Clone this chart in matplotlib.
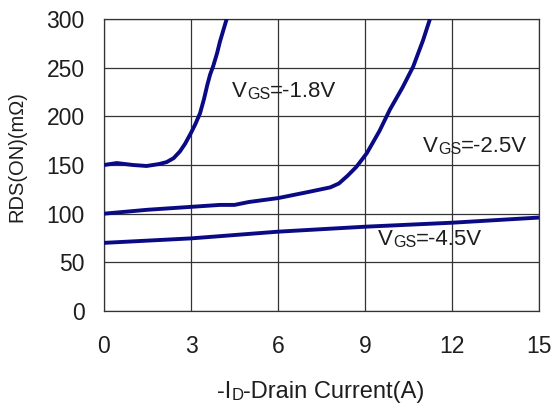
import numpy as np
import matplotlib
matplotlib.use("Agg")
import matplotlib.pyplot as plt

plt.rcParams['font.family'] = ['Liberation Sans', 'DejaVu Sans']

# drain current (A) vs on-resistance (mOhm) for three gate voltages
id_18 = [0, 0.44, 1.0, 1.47, 1.9, 2.16, 2.4, 2.62, 2.8, 3.0, 3.15, 3.31, 3.45, 3.56, 3.66, 3.77, 3.9, 4.0, 4.23]
rds_18 = [150, 152, 150, 149, 151, 153, 157, 164, 172, 183, 192, 203, 218, 232, 243, 252, 265, 277, 300]

id_25 = [0, 1.5, 3.0, 4.0, 4.5, 5.0, 6.0, 7.0, 7.8, 8.1, 8.4, 8.7, 9.06, 9.5, 9.86, 10.3, 10.66, 11.0, 11.24]
rds_25 = [100, 104, 107, 109, 109, 112, 116, 122, 127, 131, 139, 148, 162, 185, 207, 230, 251, 278, 300]

id_45 = [0, 3, 6, 9, 12, 15]
rds_45 = [70, 74.6, 81.5, 86.6, 90.7, 96]

xticks = [0, 3, 6, 9, 12, 15]
yticks = [0, 50, 100, 150, 200, 250, 300]

curve_labels = [("-1.8V", 4.41, 220), ("-2.5V", 11.0, 163), ("-4.5V", 9.45, 68)]

LINE = '#0a0a84'
GRID = '#333333'
TXT = '#1e1e1e'

fig = plt.figure(figsize=(5.53, 4.05), dpi=100)
ax = fig.add_axes([104 / 553, 1 - 311 / 405, 435 / 553, 292 / 405])

for xs, ys in [(id_18, rds_18), (id_25, rds_25), (id_45, rds_45)]:
    ax.plot(xs, ys, color=LINE, lw=2.8, solid_capstyle='butt', solid_joinstyle='round', zorder=3)

ax.set_xlim(0, 15)
ax.set_ylim(0, 300)
ax.set_xticks(xticks)
ax.set_yticks(yticks)
ax.tick_params(length=0, labelsize=16.5, colors=TXT)
ax.tick_params(axis='x', pad=17)
ax.tick_params(axis='y', pad=14)
ax.grid(True, color=GRID, lw=0.9)
ax.set_axisbelow(True)
for s in ax.spines.values():
    s.set_color(GRID)
    s.set_linewidth(0.9)


def chain(first, parts):
    # place text pieces one after another along a common baseline
    prev = first
    for txt, size in parts:
        prev = ax.annotate(txt, xy=(1, 0), xycoords=prev, va='bottom', ha='left',
                           fontsize=size, color=TXT, annotation_clip=False)
    return prev


for val, x, y in curve_labels:
    v = ax.text(x, y, "V", fontsize=16, va='baseline', ha='left', color=TXT, zorder=4)
    chain(v, [("GS", 11.5), ("=" + val, 16)])

# x axis label: -I_D-Drain Current(A)
xl = fig.text(217 / 553, 1 - 398 / 405, "-I", fontsize=17, va='baseline', ha='left', color=TXT)
chain(xl, [("D", 12), ("-Drain Current(A)", 17)])

fig.text(17 / 553, 1 - 157 / 405, "RDS(ON)(m\u03a9)", rotation=90, fontsize=14.5,
         va='center', ha='center', color=TXT)

fig.savefig("out.png", dpi=100)
